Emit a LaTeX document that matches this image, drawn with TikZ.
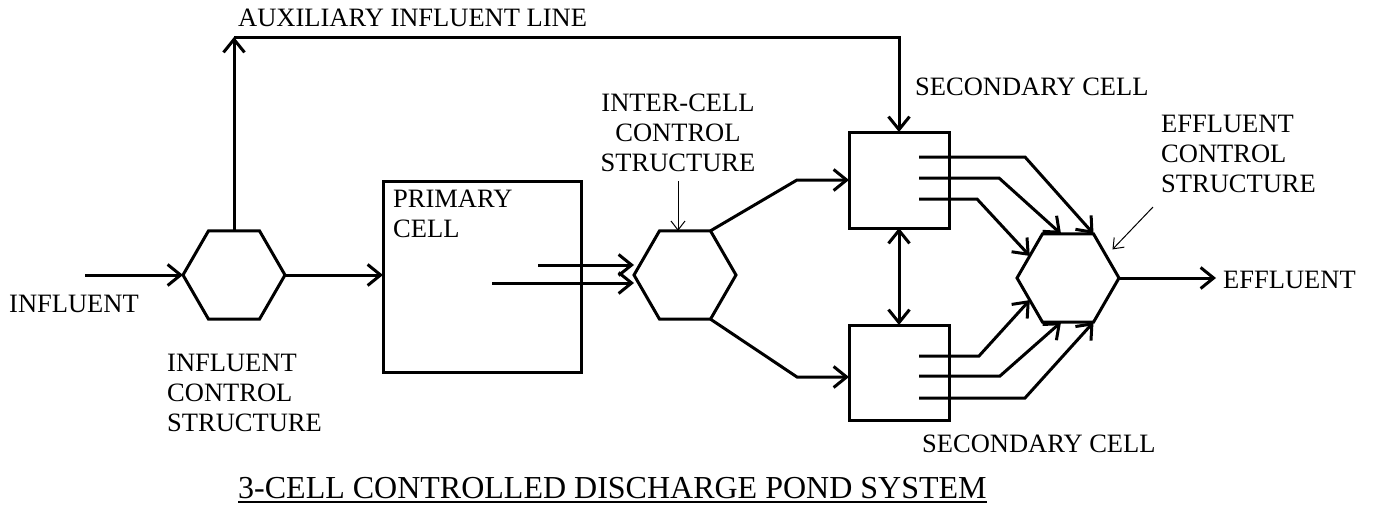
\documentclass[tikz,border=0pt]{standalone}
\usepackage{fontspec}
\setmainfont{Liberation Serif}
\usetikzlibrary{shapes.geometric,arrows.meta,calc}
\newcommand\lblfont{\fontsize{26.5}{30}\selectfont}
\tikzset{
  hexa/.style={draw, regular polygon, regular polygon sides=6, minimum size=102pt,
    inner sep=0pt, outer sep=0pt, line width=3pt},
  cellbox/.style={draw, rectangle, inner sep=0pt, outer sep=0pt, line width=3pt},
  flow/.style={line width=3pt, >={Straight Barb[length=13pt,width=21pt]}, ->},
  pointer/.style={line width=1pt, >={Straight Barb[length=9pt,width=14pt]}, ->},
  lbl/.style={font=\lblfont, inner sep=0pt, align=left},
}

\begin{document}
\begin{tikzpicture}[x=1pt, y=-1pt]
  \useasboundingbox (0,0) rectangle (1374,506);
  % control structures
  \node[hexa] (ics) at (234,275) {};
  \node[hexa] (icc) at (685,275) {};
  \node[hexa] (ecs) at (1068,278) {};
  % ponds
  \node[cellbox, minimum width=198pt, minimum height=191pt] (pc) at (482,276.5) {};
  \node[cellbox, minimum width=100pt, minimum height=96pt] (sc1) at (899,180) {};
  \node[cellbox, minimum width=100pt, minimum height=95pt] (sc2) at (899,372.5) {};
  % labels
  \node[lbl, anchor=base west] (auxlbl) at (238,27) {AUXILIARY INFLUENT LINE};
  \node[lbl, anchor=base west] (infllbl) at (9,312) {INFLUENT};
  \node[lbl, anchor=north west] (icslbl) at (167,354) {INFLUENT\\CONTROL\\STRUCTURE};
  \node[lbl, anchor=north west] (pclbl) at (393,190) {PRIMARY\\CELL};
  \node[lbl, align=center, anchor=north] (icclbl) at (678,94) {INTER-CELL\\CONTROL\\STRUCTURE};
  \node[lbl, anchor=base west] (sc1lbl) at (915,95) {SECONDARY CELL};
  \node[lbl, anchor=base west] (sc2lbl) at (922,452) {SECONDARY CELL};
  \node[lbl, anchor=north west] (ecslbl) at (1161,115) {EFFLUENT\\CONTROL\\STRUCTURE};
  \node[lbl, anchor=base west] (efflbl) at (1223,288) {EFFLUENT};
  \node[anchor=base west, inner sep=0pt, font=\fontsize{32}{36}\selectfont] (title) at (238,498)
    {3-CELL CONTROLLED DISCHARGE POND SYSTEM};
  \draw[line width=1.6pt] ([yshift=-4pt]title.base west) -- ([yshift=-4pt]title.base east);

  % influent side
  \coordinate (inflin) at (85,275);
  \draw[flow] (inflin) -- (ics.west);
  \draw[flow] (ics.east) -- (ics.east -| pc.west);
  % auxiliary influent line
  \coordinate (auxup) at (ics.north |- 0,37);
  \coordinate (auxright) at (sc1.north |- 0,37);
  \draw[flow] (ics.north) -- (auxup);
  \draw[flow] (auxup) -- (auxright) -- (sc1.north);
  % primary cell to inter-cell structure
  \coordinate (pcout1) at (538,265);
  \coordinate (pcout2) at (492,283);
  \draw[flow] (pcout1) -- (pcout1 -| icc.west);
  \draw[flow] (pcout2) -- (pcout2 -| icc.west);
  % inter-cell structure to secondary cells
  \coordinate (upbend) at (797,180);
  \coordinate (lowbend) at (797,377);
  \draw[flow] ($(icc.north)+(25.5,0)$) -- (upbend) -- (sc1.west);
  \draw[flow] ($(icc.south)+(25.5,0)$) -- (lowbend) -- (lowbend -| sc2.west);
  \draw[flow, <->] (sc1) -- (sc2);
  % secondary cells to effluent structure
  \draw[flow] ($(sc1.east)+(-30,-23)$) -- ++(106,0) -- ($(ecs.north)+(25.5,0)$);
  \draw[flow] ($(sc1.east)+(-30,-2)$) -- ++(80,0) -- ($(ecs.north)+(-7,0)$);
  \draw[flow] ($(sc1.east)+(-30,19)$) -- ++(58,0) -- (ecs.150);
  \draw[flow] ($(sc2.east)+(-30,-16.5)$) -- ++(60,0) -- (ecs.210);
  \draw[flow] ($(sc2.east)+(-30,3.5)$) -- ++(81,0) -- ($(ecs.south)+(-7,0)$);
  \draw[flow] ($(sc2.east)+(-30,25.5)$) -- ++(106,0) -- ($(ecs.south)+(25.5,0)$);
  \draw[flow, shorten >=7pt] (ecs.east) -- (ecs.east -| efflbl.west);
  % label pointers
  \draw[pointer] ([yshift=-9pt]icclbl.south) -- (icclbl.south |- icc.north);
  \draw[pointer, shorten >=9pt] ([xshift=-8pt,yshift=-14pt]ecslbl.south west) -- (ecs.30);
\end{tikzpicture}
\end{document}
